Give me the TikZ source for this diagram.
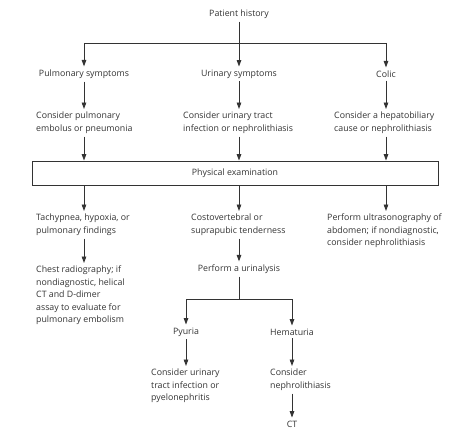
\documentclass[tikz,border=0pt]{standalone}
\usepackage{fontspec}
\setmainfont{Open Sans}
\usetikzlibrary{arrows.meta}
\definecolor{ink}{HTML}{333333}
\begin{document}
\begin{tikzpicture}[x=1pt,y=-1pt,
  every node/.style={font=\fontsize{8.8}{12.5}\selectfont, text=ink, inner xsep=0pt, inner ysep=3pt},
  txt/.style={align=left, anchor=north west},
  ln/.style={draw=ink, line width=0.9pt},
  arr/.style={ln, -{Triangle[length=6.5pt,width=4.6pt]}}]
\useasboundingbox (0,0) rectangle (474,436);
% columns
\coordinate (c1) at (84,0);
\coordinate (c2) at (239,0);
\coordinate (c3) at (386,0);
\coordinate (c4) at (186,0);
\coordinate (c5) at (292,0);
\coordinate (split1) at (239,43);
\coordinate (split2) at (239,299);
% nodes
\node (hist) at (239,14) {Patient history};
\node (ps) at (84,74) {Pulmonary symptoms};
\node (us) at (239,74) {Urinary symptoms};
\node (co) at (386,74) {Colic};
\node[txt] (cp) at (36,109) {Consider pulmonary\\embolus or pneumonia};
\node[txt] (cu) at (183,109) {Consider urinary tract\\infection or nephrolithiasis};
\node[txt] (ch) at (334,109) {Consider a hepatobiliary\\cause or nephrolithiasis};
\node[draw=ink, line width=0.9pt, minimum width=406pt, minimum height=24pt] (pe) at (235,173) {Physical examination};
\node[txt] (ta) at (36,211) {Tachypnea, hypoxia, or\\pulmonary findings};
\node[txt] (cv) at (191,211) {Costovertebral or\\suprapubic tenderness};
\node[txt] (pu) at (327,211) {Perform ultrasonography of\\abdomen; if nondiagnostic,\\consider nephrolithiasis};
\node[txt] (cr) at (36,263) {Chest radiography; if\\nondiagnostic, helical\\CT and D-dimer\\assay to evaluate for\\pulmonary embolism};
\node (ua) at (239,269) {Perform a urinalysis};
\node (py) at (186,332) {Pyuria};
\node (he) at (292,332) {Hematuria};
\node[txt] (cui) at (151,366) {Consider urinary\\tract infection or\\pyelonephritis};
\node[txt] (cn) at (270,366) {Consider\\nephrolithiasis};
\node (ct) at (292,424) {CT};
% connectors
\draw[arr] (hist.south) -- (us.north);
\draw[ln] (split1 -| c1) -- (split1 -| c3);
\draw[arr] (split1 -| c1) -- (ps.north);
\draw[arr] (split1 -| c3) -- (co.north);
\draw[arr] (ps.south) -- (cp.north -| c1);
\draw[arr] (us.south) -- (cu.north -| c2);
\draw[arr] (co.south) -- (ch.north -| c3);
\draw[arr] (cp.south -| c1) -- (pe.north -| c1);
\draw[arr] (cu.south -| c2) -- (pe.north -| c2);
\draw[arr] (ch.south -| c3) -- (pe.north -| c3);
\draw[arr] (pe.south -| c1) -- (ta.north -| c1);
\draw[arr] (pe.south -| c2) -- (cv.north -| c2);
\draw[arr] (pe.south -| c3) -- (pu.north -| c3);
\draw[arr] (ta.south -| c1) -- (cr.north -| c1);
\draw[arr] (cv.south -| c2) -- (ua.north);
\draw[ln] (ua.south) -- (split2);
\draw[ln] (split2 -| c4) -- (split2 -| c5);
\draw[arr] (split2 -| c4) -- (py.north);
\draw[arr] (split2 -| c5) -- (he.north);
\draw[arr] (py.south) -- (cui.north -| c4);
\draw[arr] (he.south) -- (cn.north -| c5);
\draw[arr] (cn.south -| c5) -- (ct.north);
\end{tikzpicture}
\end{document}
